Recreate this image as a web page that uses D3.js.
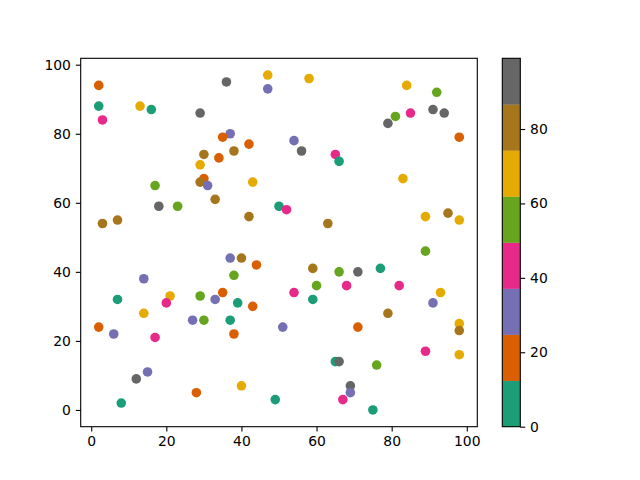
<!DOCTYPE html>
<html>
<head>
<meta charset="utf-8">
<script src="https://cdn.jsdelivr.net/npm/d3@7"></script>
<style>
  body { margin: 0; background: #fff; }
  svg text { font-family: "DejaVu Sans", sans-serif; }
</style>
</head>
<body>
<svg id="chart" width="640" height="480"></svg>
<script>
// scatter points
const xs = [2, 2, 3, 13, 16, 3, 7, 17, 18, 23, 29, 36, 47, 47, 37, 35, 30, 38, 42, 34, 29, 30, 29, 31, 43, 33, 50, 42,
  58, 84, 92, 85, 81, 79, 91, 94, 98, 54, 56, 65, 66, 83, 52, 63, 89, 95, 98,
  37, 40, 44, 38, 14, 7, 21, 20, 29, 35, 33, 39, 43, 14, 27, 30, 37, 2, 6, 17, 38, 15, 12, 28, 40, 8, 49,
  89, 59, 66, 71, 77, 60, 54, 68, 82, 59, 93, 91, 79, 51, 71, 98, 98, 89, 98, 65, 66, 76, 69, 69, 67, 75];
const ys = [94, 88, 84, 88, 87, 54, 55, 65, 59, 59, 86, 95, 97, 93, 80, 79, 74, 75, 77, 73, 71, 67, 66, 65, 66, 61, 59, 56,
  96, 94, 92, 86, 85, 83, 87, 86, 79, 78, 75, 74, 72, 67, 58, 54, 56, 57, 55,
  44, 44, 42, 39, 38, 32, 33, 31, 33, 34, 32, 31, 30, 28, 26, 26, 26, 24, 22, 21, 22, 11, 9, 5, 7, 2, 3,
  46, 41, 40, 40, 41, 36, 34, 36, 36, 32, 34, 31, 28, 24, 24, 25, 23, 17, 16, 14, 14, 13, 7, 5, 3, 0];
// colour values (Dark2 bins of ~12.4)
const cs = [18, 6, 44, 68, 9, 80, 81, 55, 92, 56, 93, 95, 70, 30, 31, 20, 79, 82, 17, 21, 66, 19, 78, 28, 69, 84, 4, 83,
  67, 71, 57, 45, 54, 94, 90, 99, 16, 33, 91, 42, 7, 72, 46, 85, 64, 76, 73,
  29, 80, 15, 58, 32, 5, 65, 41, 53, 22, 27, 8, 23, 63, 34, 52, 3, 14, 35, 47, 18, 30, 96, 21, 70, 0, 10,
  60, 77, 59, 97, 2, 51, 43, 39, 48, 11, 74, 36, 86, 26, 13, 62, 79, 40, 67, 6, 88, 55, 98, 25, 45, 1];
const cbTicks = [0, 20, 40, 60, 80];

const svg = d3.select("#chart");
const ax = { left: 80.7, right: 477.3, top: 58.3, bottom: 426.7 };
const cb = { left: 502.3, right: 520.3, top: 58.3, bottom: 426.7 };

const padX = (d3.max(xs) - d3.min(xs)) * 0.05;
const padY = (d3.max(ys) - d3.min(ys)) * 0.05;
const x = d3.scaleLinear().domain([d3.min(xs) - padX, d3.max(xs) + padX]).range([ax.left, ax.right]);
const y = d3.scaleLinear().domain([d3.min(ys) - padY, d3.max(ys) + padY]).range([ax.bottom, ax.top]);

const dark2 = d3.schemeDark2;
const cmin = d3.min(cs), cmax = d3.max(cs);
const color = d3.scaleQuantize().domain([cmin, cmax]).range(dark2);

// points
svg.append("g")
  .selectAll("circle")
  .data(d3.range(xs.length))
  .join("circle")
  .attr("cx", i => x(xs[i]))
  .attr("cy", i => y(ys[i]))
  .attr("r", 4.8)
  .attr("fill", i => color(cs[i]));

// axes
const styleAxis = g => {
  g.selectAll("path").remove();
  g.selectAll("line").attr("stroke", "#000").attr("stroke-width", 1.1);
  g.selectAll("text").attr("font-size", "13.9px").attr("fill", "#000");
};
svg.append("g")
  .attr("transform", `translate(0,${ax.bottom})`)
  .call(d3.axisBottom(x).tickValues([0, 20, 40, 60, 80, 100]).tickSizeInner(4.9).tickPadding(4.9))
  .call(styleAxis);
svg.append("g")
  .attr("transform", `translate(${ax.left},0)`)
  .call(d3.axisLeft(y).tickValues([0, 20, 40, 60, 80, 100]).tickSizeInner(4.9).tickPadding(4.9))
  .call(styleAxis);

svg.append("rect")
  .attr("x", ax.left).attr("y", ax.top)
  .attr("width", ax.right - ax.left).attr("height", ax.bottom - ax.top)
  .attr("fill", "none").attr("stroke", "#000").attr("stroke-width", 1.1);

// colorbar
const cy = d3.scaleLinear().domain([cmin, cmax]).range([cb.bottom, cb.top]);
const step = (cmax - cmin) / dark2.length;
svg.append("g")
  .selectAll("rect")
  .data(dark2)
  .join("rect")
  .attr("x", cb.left)
  .attr("width", cb.right - cb.left)
  .attr("y", (d, i) => cy(cmin + (i + 1) * step))
  .attr("height", (d, i) => cy(cmin + i * step) - cy(cmin + (i + 1) * step) + 0.3)
  .attr("fill", d => d);

svg.append("g")
  .attr("transform", `translate(${cb.right},0)`)
  .call(d3.axisRight(cy).tickValues(cbTicks).tickSizeInner(4.9).tickPadding(4.9))
  .call(styleAxis);

svg.append("rect")
  .attr("x", cb.left).attr("y", cb.top)
  .attr("width", cb.right - cb.left).attr("height", cb.bottom - cb.top)
  .attr("fill", "none").attr("stroke", "#000").attr("stroke-width", 1.1);
</script>
</body>
</html>
